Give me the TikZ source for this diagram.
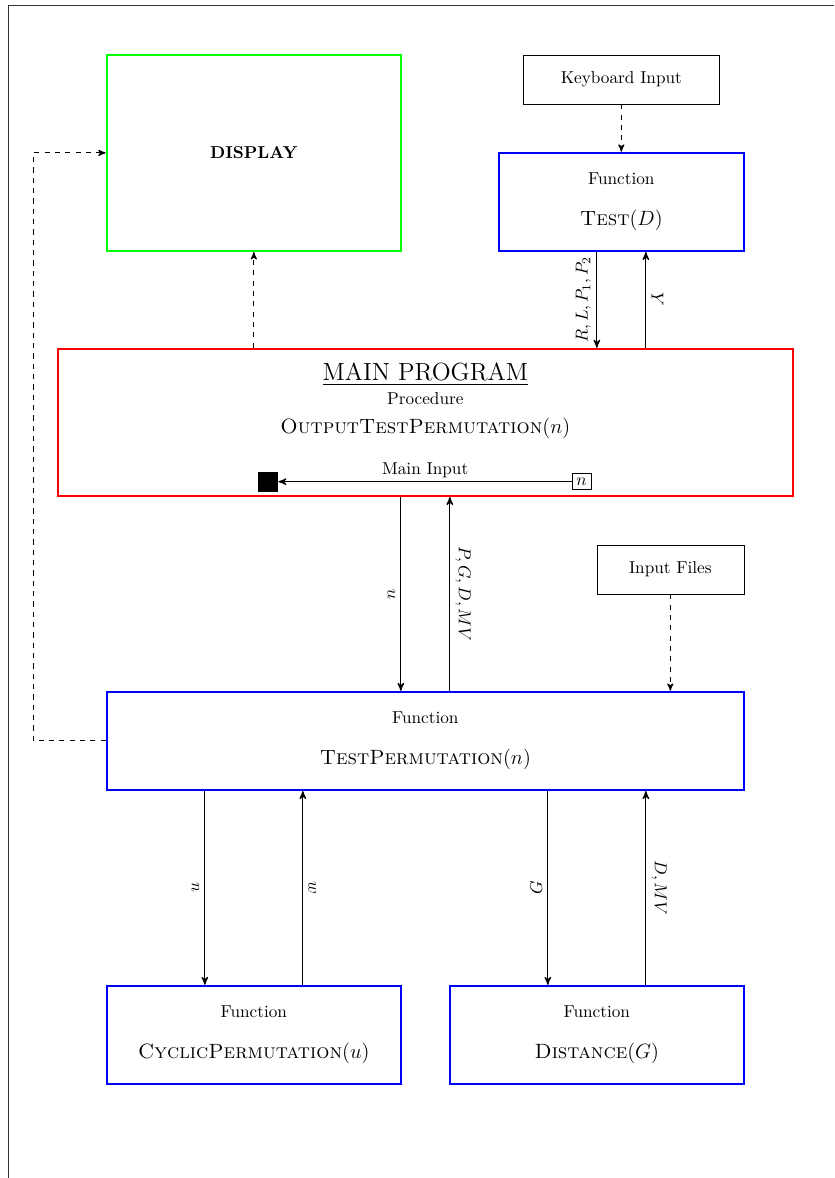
\documentclass[tikz,border=0pt]{standalone}
\usepackage{amsmath}
\usepackage{tikz}
\usetikzlibrary{arrows, positioning}
\tikzset{%
	fbox/.style={draw=blue, line width=1.3pt, rectangle, align=center},
	dbox/.style={draw=green, line width=1.3pt, rectangle, align=center},
	mbox/.style={draw=red, line width=1.3pt, rectangle},
	src/.style={draw, thin, rectangle, minimum height=1cm},
	flow/.style={->, >=stealth', line width=0.7pt},
	feed/.style={->, >=stealth', semithick, dashed},
	lbll/.style={midway, rotate=90, anchor=south, inner sep=3pt},
	lblr/.style={midway, rotate=-90, anchor=south, inner sep=3pt}
}
\newcommand{\fname}[2]{Function\\[12pt]{\large\textsc{#1}$(#2)$}}

\begin{document}
\begin{tikzpicture}
  \useasboundingbox (-0.18,-23.92) rectangle (16.84,0.12);
  \draw[black!80, line width=0.5pt] (0,-23.92) -- (0,0) -- (16.84,0);

  % boxes
  \node[dbox, minimum width=6cm, minimum height=4cm] (disp) at (5,-3) {\textbf{DISPLAY}};
  \node[src, minimum width=4cm] (kbd) at (12.5,-1.5) {Keyboard Input};
  \node[fbox, minimum width=5cm, minimum height=2cm] (test) at (12.5,-4) {\fname{Test}{D}};
  \node[mbox, minimum width=15cm, minimum height=3cm] (main) at (8.5,-8.5) {};
  \node[align=center, anchor=north] (mtxt) at (8.5,-7.16)
    {{\Large\underline{MAIN PROGRAM}}\\[2pt] Procedure\\[4.5pt] {\large\textsc{OutputTestPermutation}$(n)$}};
  \node[draw, thin, inner sep=2.5pt] (nin) at (11.69,-9.71) {$n$};
  \node[fill, minimum size=0.41cm, inner sep=0pt] (sq) at (5.29,-9.71) {};
  \node[src, minimum width=3cm] (files) at (13.5,-11.5) {Input Files};
  \node[fbox, minimum width=13cm, minimum height=2cm] (tperm) at (8.5,-15) {\fname{TestPermutation}{n}};
  \node[fbox, minimum width=6cm, minimum height=2cm] (cyc) at (5,-21) {\fname{CyclicPermutation}{u}};
  \node[fbox, minimum width=6cm, minimum height=2cm] (dist) at (12,-21) {\fname{Distance}{G}};

  % connectors
  \draw[feed] (kbd) -- (test);
  \draw[feed] (main.north -| disp) -- (disp);
  \draw[flow] (test.south -| 12,0) -- node[lbll]{$R,L,P_1,P_2$} (main.north -| 12,0);
  \draw[flow] (main.north -| 13,0) -- node[lblr]{$Y$} (test.south -| 13,0);
  \draw[flow] (nin) -- node[above, inner sep=2pt]{Main Input} (sq);
  \draw[flow] (main.south -| 8,0) -- node[lbll]{$n$} (tperm.north -| 8,0);
  \draw[flow] (tperm.north -| 9,0) -- node[lblr]{$P,G,D,MV$} (main.south -| 9,0);
  \draw[feed] (files) -- (tperm.north -| files);
  \draw[feed] (tperm.west) -- (0.5,-15) |- (disp.west);
  \draw[flow] (tperm.south -| 4,0) -- node[lbll]{$u$} (cyc.north -| 4,0);
  \draw[flow] (cyc.north -| 6,0) -- node[lblr]{$w$} (tperm.south -| 6,0);
  \draw[flow] (tperm.south -| 11,0) -- node[lbll]{$G$} (dist.north -| 11,0);
  \draw[flow] (dist.north -| 13,0) -- node[lblr]{$D,MV$} (tperm.south -| 13,0);
\end{tikzpicture}
\end{document}
